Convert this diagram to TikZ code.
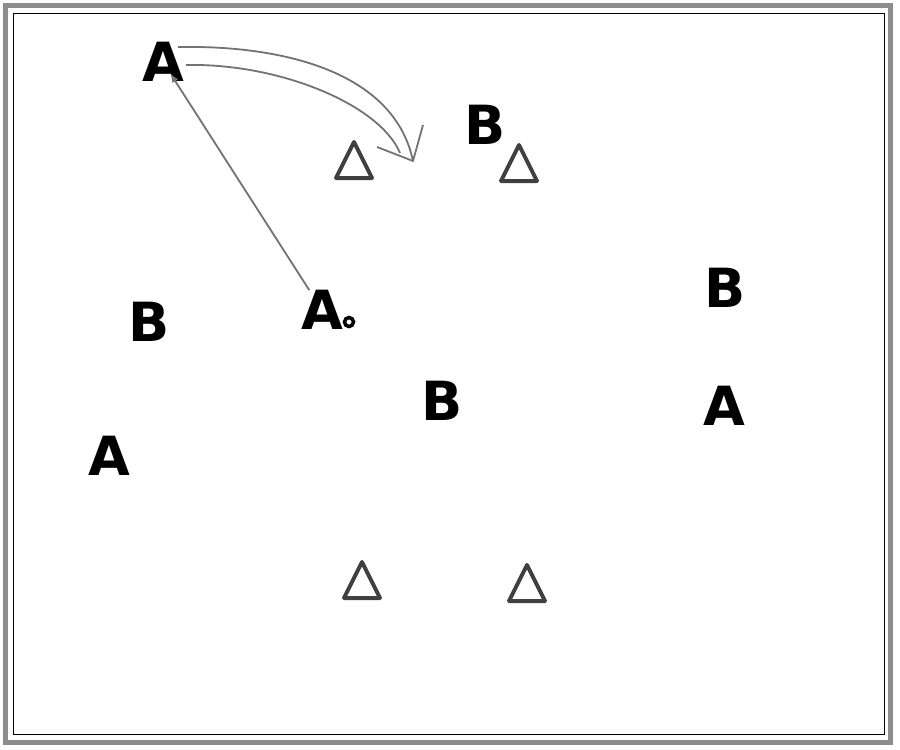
\documentclass[tikz,border=0pt]{standalone}
\usepackage{fontspec}
\setmainfont{DejaVu Sans}
\usetikzlibrary{arrows.meta,positioning}

\begin{document}
\begin{tikzpicture}[x=1pt, y=-1pt,
    player/.style={
        inner sep=0pt,
        font=\bfseries\fontsize{54}{54}\selectfont
    },
    conestroke/.style={draw=black!75, line width=4pt, line join=round},
    cone/.pic={
        \draw[conestroke] (0,-18) -- (18,18) -- (-18,18) -- cycle;
    },
    pass/.style={black!55, line width=1.8pt, -{Latex[length=9pt,width=7pt]}},
    run/.style={black!55, line width=1.8pt}
]
    \useasboundingbox (0,0) rectangle (900,750);
    \fill[white] (0,0) rectangle (900,750);

    % field border
    \draw[black!45, line width=5pt] (5,5) rectangle (890,742);
    \draw[black, line width=1pt] (13,13) rectangle (884,734);

    % players
    \node (a_top) [player] at (163,62) {A};
    \node (a_mid) [player] at (322,310) {A};
    \node (a_left) [player] at (109,456) {A};
    \node (a_right) [player] at (724,406) {A};

    \node (b_top) [player] at (485,125) {B};
    \node (b_left) [player] at (149,322) {B};
    \node (b_mid) [player] at (442,401) {B};
    \node (b_right) [player] at (725,288) {B};

    % ball
    \node (ball) [circle, draw=black, fill=white, line width=3.5pt, inner sep=0pt,
        minimum size=9pt] at (349,322) {};

    % cones
    \pic at (354,160) {cone};
    \pic at (519,163) {cone};
    \pic at (362,580) {cone};
    \pic at (527,583) {cone};

    % pass
    \draw[pass, shorten >=-10pt] (a_mid) to (a_top);

    % run
    \coordinate (run_end) at (413,161);
    \coordinate (run_wing_a) at (423,125);
    \coordinate (run_wing_b) at (377,147);
    \draw[run] ([xshift=-6pt, yshift=15pt]a_top.east)
        .. controls (290,45) and (395,75) .. (run_end);
    \draw[run] ([xshift=2pt, yshift=-3pt]a_top.east)
        .. controls (280,63) and (380,105) .. (400,153);
    \draw[run, line join=round] (run_wing_a) -- (run_end) -- (run_wing_b);
\end{tikzpicture}
\end{document}
